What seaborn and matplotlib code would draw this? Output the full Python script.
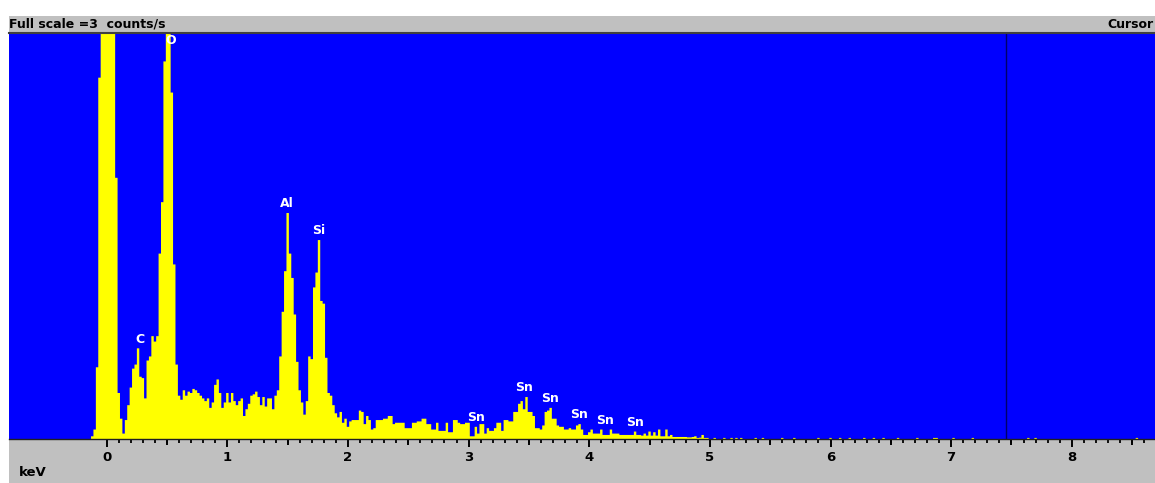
import numpy as np
import pandas as pd
import matplotlib
matplotlib.use("Agg")
import matplotlib.pyplot as plt
import seaborn as sns

# EDS spectrum, 20 eV channels, values in counts/s
first_channel_kev = -0.13
channel_kev = 0.02

# -0.13 .. 0.57 keV (noise peak, C, O)
cps_low = [0.02, 0.07, 0.53, 2.67, 5.0, 8.0, 9.5, 9.0, 7.0, 4.5,
           1.93, 0.34, 0.15, 0.04, 0.14, 0.25, 0.38, 0.52, 0.55, 0.67,
           0.46, 0.45, 0.30, 0.58, 0.61, 0.76, 0.72, 0.76, 1.37, 1.75,
           2.79, 3.3, 3.2, 2.56, 1.29, 0.55]
# 0.59 .. 1.47 keV
cps_mid = [0.32, 0.29, 0.36, 0.32, 0.35, 0.34, 0.37, 0.36, 0.34, 0.32,
           0.30, 0.28, 0.30, 0.23, 0.27, 0.40, 0.44, 0.34, 0.23, 0.27,
           0.34, 0.27, 0.34, 0.28, 0.25, 0.28, 0.30, 0.17, 0.22, 0.26,
           0.32, 0.33, 0.35, 0.31, 0.25, 0.31, 0.24, 0.30, 0.30, 0.22,
           0.32, 0.36, 0.61, 0.94, 1.24]
# 1.49 .. 2.23 keV (Al, Si)
cps_alsi = [1.67, 1.37, 1.19, 0.92, 0.57, 0.36, 0.27, 0.18, 0.28, 0.61,
            0.59, 1.12, 1.23, 1.47, 1.02, 1.00, 0.60, 0.34, 0.32, 0.25,
            0.19, 0.16, 0.20, 0.12, 0.15, 0.09, 0.13, 0.14, 0.14, 0.14,
            0.21, 0.20, 0.11, 0.17, 0.14, 0.07, 0.08, 0.14]
# 2.25 .. 4.37 keV (Sn L lines)
cps_sn = [0.14, 0.14, 0.15, 0.15, 0.17, 0.17, 0.11, 0.12, 0.12, 0.12,
          0.12, 0.08, 0.08, 0.08, 0.12, 0.12, 0.13, 0.13, 0.15, 0.15,
          0.11, 0.11, 0.07, 0.07, 0.12, 0.06, 0.06, 0.06, 0.12, 0.05,
          0.05, 0.14, 0.14, 0.12, 0.11, 0.11, 0.12, 0.12, 0.02, 0.02,
          0.09, 0.04, 0.11, 0.11, 0.04, 0.08, 0.06, 0.06, 0.08, 0.12,
          0.12, 0.06, 0.14, 0.14, 0.13, 0.13, 0.20, 0.20, 0.26, 0.28,
          0.22, 0.31, 0.20, 0.20, 0.17, 0.08, 0.08, 0.07, 0.10, 0.20,
          0.21, 0.23, 0.15, 0.15, 0.10, 0.09, 0.09, 0.07, 0.07, 0.08,
          0.07, 0.07, 0.10, 0.11, 0.07, 0.03, 0.03, 0.05, 0.07, 0.04,
          0.04, 0.04, 0.07, 0.03, 0.03, 0.03, 0.07, 0.04, 0.04, 0.04,
          0.03, 0.03, 0.03, 0.03, 0.03, 0.03, 0.055]
# 4.39 .. 4.97 keV
cps_tail = [0.03, 0.03, 0.025, 0.04, 0.025, 0.055, 0.025, 0.05, 0.025, 0.07,
            0.02, 0.02, 0.07, 0.02, 0.03, 0.015, 0.015, 0.015, 0.015, 0.015,
            0.015, 0.012, 0.012, 0.015, 0.02, 0.008, 0.01, 0.03, 0.008, 0.008]

# odd single counts further out
sparse_kev = [5.04, 5.12, 5.18, 5.22, 5.26, 5.38, 5.44, 5.60, 5.70, 5.90,
              6.00, 6.08, 6.16, 6.28, 6.36, 6.44, 6.56, 6.72, 6.86, 6.88,
              7.02, 7.18, 7.64, 7.70, 8.54]
sparse_cps = [0.008] * len(sparse_kev)

peak_names = ["C", "O", "Al", "Si", "Sn", "Sn", "Sn", "Sn", "Sn", "Sn"]
peak_kev = [0.274, 0.527, 1.49, 1.755, 3.06, 3.456, 3.675, 3.915, 4.135, 4.376]

full_scale = 3
cursor_kev = 7.457
major_kev = list(range(9))

BLUE = "#0000FF"
YELLOW = "#FFFF00"
GRAY = "#C0C0C0"

cps = cps_low + cps_mid + cps_alsi + cps_sn + cps_tail
kev = first_channel_kev + channel_kev * (np.arange(len(cps)) + 0.5)
spectrum = pd.DataFrame({"kev": np.concatenate([kev, sparse_kev]),
                         "cps": cps + sparse_cps})

W, H = 1155, 483
fig = plt.figure(figsize=(W / 100, H / 100), dpi=100, facecolor="white")

# grey strip under the plot
bot = fig.add_axes([9 / W, 0, 1146 / W, 44 / H])
bot.set_facecolor(GRAY)
bot.set_xticks([])
bot.set_yticks([])
for s in bot.spines.values():
    s.set_visible(False)

ax = fig.add_axes([9 / W, 44 / H, 1146 / W, 406 / H])
ax.set_facecolor(BLUE)
sns.histplot(data=spectrum, x="kev", weights="cps", binwidth=channel_kev,
             binrange=(first_channel_kev, 8.67), element="step", fill=True,
             color=YELLOW, alpha=1, linewidth=0, ax=ax)
ax.axvline(cursor_kev, color="#00006A", lw=1.0)

ax.set_xlim(-0.81, 8.69)
ax.set_ylim(0, full_scale)
ax.set_xlabel("")
ax.set_ylabel("")
ax.set_yticks([])
for side in ["top", "left", "right"]:
    ax.spines[side].set_visible(False)
ax.spines["bottom"].set_color("#202020")
ax.spines["bottom"].set_linewidth(1)

ax.set_xticks(major_kev)
ax.set_xticks(np.arange(0, 8.65, 0.1), minor=True)
ax.tick_params(axis="x", which="major", length=5.8, width=1.4, color="black",
               pad=3, labelsize=9.5)
ax.tick_params(axis="x", which="minor", length=3, width=1.3, color="black")
for lab in ax.get_xticklabels():
    lab.set_fontweight("bold")

half = ax.secondary_xaxis("bottom")
half.set_xticks(np.arange(0.5, 8.6, 1.0))
half.tick_params(length=4.6, width=1.4, color="black", labelbottom=False)
half.spines["bottom"].set_visible(False)

# element labels sit just above the local maximum
for name, e in zip(peak_names, peak_kev):
    near = np.abs(kev - e) <= 0.04
    y = min(max(np.array(cps)[near]) + 0.02, 2.9)
    ax.text(e, y, name, color="white", fontsize=9, fontweight="bold",
            ha="center", va="bottom")

# header strip
top = fig.add_axes([9 / W, 1 - 33 / H, 1146 / W, 17 / H])
top.set_facecolor(GRAY)
top.set_xticks([])
top.set_yticks([])
for side in ["top", "left", "right"]:
    top.spines[side].set_visible(False)
top.spines["bottom"].set_color("#404040")
top.spines["bottom"].set_linewidth(1.5)

fig.text(9 / W, 1 - 24 / H, "Full scale =3  counts/s", fontsize=9,
         fontweight="bold", va="center", ha="left")
fig.text(1153 / W, 1 - 24 / H, "Cursor", fontsize=9,
         fontweight="bold", va="center", ha="right")
fig.text(19 / W, 1 - 473 / H, "keV", fontsize=9.5,
         fontweight="bold", va="center", ha="left")

fig.savefig("out.png", dpi=100, facecolor="white")
